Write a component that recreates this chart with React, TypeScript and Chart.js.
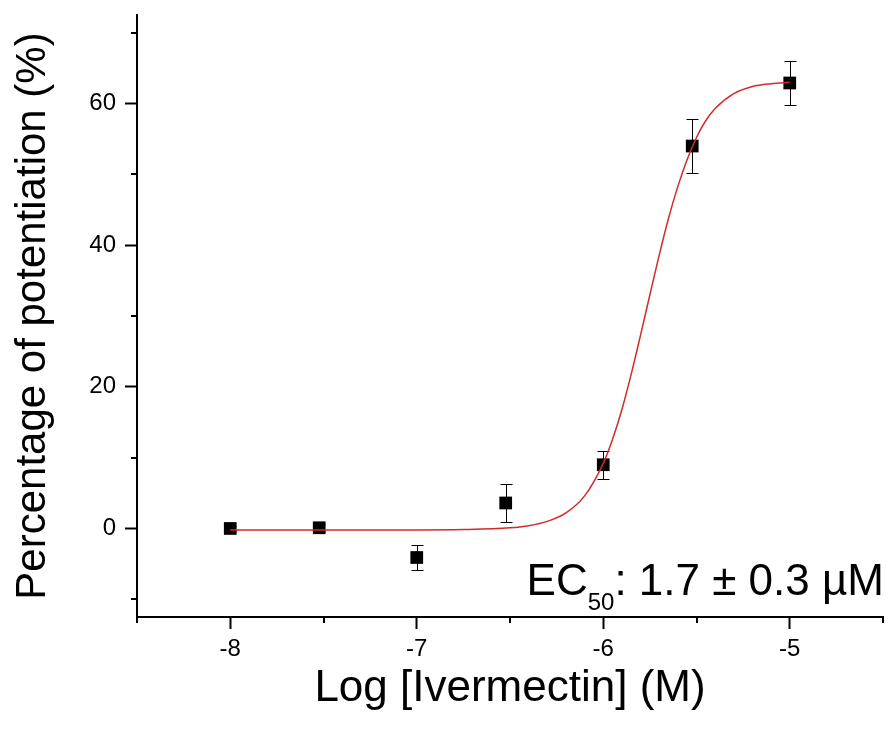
import React, { useEffect, useRef } from 'react';
import { Chart, registerables } from 'chart.js';

Chart.register(...registerables);

// Measured data points (log molar concentration vs % potentiation, mean ± SEM)
const logConc = [-8, -7.523, -7, -6.523, -6, -5.523, -5];
const potentiation = [0, 0.1, -4.1, 3.6, 9.0, 54.0, 62.9];
const sem = [0.4, 0.5, 1.8, 2.65, 2.0, 3.8, 3.1];

// Fitted curve
const fitLogConc = [-8, -7.5, -7, -6.75, -6.5, -6.4, -6.3, -6.2, -6.1, -6.0, -5.95, -5.9, -5.85, -5.8, -5.75, -5.7, -5.65, -5.6, -5.55, -5.5, -5.45, -5.4, -5.3, -5.2, -5.1, -5.0];
const fitValues = [-0.2, -0.2, -0.2, -0.15, 0.1, 0.4, 1.0, 2.2, 4.6, 9.2, 12.6, 16.8, 21.8, 27.3, 33.0, 38.6, 43.8, 48.3, 52.1, 55.2, 57.6, 59.3, 61.4, 62.4, 62.8, 63.0];

const xMajorTicks = [-8, -7, -6, -5];
const yMajorTicks = [0, 20, 40, 60];
const xMinorTicks = [-8.5, -7.5, -6.5, -5.5, -4.5];
const yMinorTicks = [-10, 10, 30, 50, 70];

const xTitle = 'Log [Ivermectin] (M)';
const yTitle = 'Percentage of potentiation (%)';
const ec50Parts = ['EC', '50', ': 1.7 \u00B1 0.3 \u00B5M'];

const FONT = 'Arial, "Liberation Sans", sans-serif';

const errorBarPlugin = {
  id: 'errorBars',
  beforeDatasetsDraw(chart: any) {
    const { ctx, scales } = chart;
    const x = scales.x;
    const y = scales.y;
    ctx.save();
    ctx.strokeStyle = '#000';
    ctx.lineWidth = 1;
    logConc.forEach((lc, i) => {
      const px = Math.round(x.getPixelForValue(lc)) + 0.5;
      const top = Math.round(y.getPixelForValue(potentiation[i] + sem[i])) + 0.5;
      const bot = Math.round(y.getPixelForValue(potentiation[i] - sem[i])) + 0.5;
      ctx.beginPath();
      ctx.moveTo(px, top);
      ctx.lineTo(px, bot);
      ctx.moveTo(px - 6, top);
      ctx.lineTo(px + 6, top);
      ctx.moveTo(px - 6, bot);
      ctx.lineTo(px + 6, bot);
      ctx.stroke();
    });
    ctx.restore();
  },
};

const minorTickPlugin = {
  id: 'minorTicks',
  afterDraw(chart: any) {
    const { ctx, scales } = chart;
    const x = scales.x;
    const y = scales.y;
    ctx.save();
    ctx.strokeStyle = '#000';
    ctx.lineWidth = 2;
    ctx.beginPath();
    xMinorTicks.forEach((v) => {
      const px = Math.round(x.getPixelForValue(v));
      ctx.moveTo(px, x.top);
      ctx.lineTo(px, x.top + 6);
    });
    yMinorTicks.forEach((v) => {
      const py = Math.round(y.getPixelForValue(v));
      ctx.moveTo(y.right - 6, py);
      ctx.lineTo(y.right, py);
    });
    ctx.stroke();
    ctx.restore();
  },
};

const ec50Plugin = {
  id: 'ec50Label',
  afterDraw(chart: any) {
    const { ctx, chartArea } = chart;
    const big = `44px ${FONT}`;
    const small = `24px ${FONT}`;
    ctx.save();
    ctx.fillStyle = '#000';
    ctx.textBaseline = 'alphabetic';
    ctx.textAlign = 'left';
    ctx.font = big;
    const w0 = ctx.measureText(ec50Parts[0]).width;
    const w2 = ctx.measureText(ec50Parts[2]).width;
    ctx.font = small;
    const w1 = ctx.measureText(ec50Parts[1]).width;
    const total = w0 + w1 + w2;
    let xPos = chartArea.right + 1 - total;
    const base = chartArea.bottom - 22;
    ctx.font = big;
    ctx.fillText(ec50Parts[0], xPos, base);
    xPos += w0;
    ctx.font = small;
    ctx.fillText(ec50Parts[1], xPos, base + 15);
    xPos += w1;
    ctx.font = big;
    ctx.fillText(ec50Parts[2], xPos, base);
    ctx.restore();
  },
};

export default function App() {
  const canvasRef = useRef<HTMLCanvasElement | null>(null);

  useEffect(() => {
    document.body.style.margin = '0';
    const canvas = canvasRef.current;
    if (!canvas) return;
    Chart.defaults.font.family = FONT;
    const chart = new Chart(canvas, {
      type: 'scatter',
      data: {
        datasets: [
          {
            label: 'Fit',
            data: fitLogConc.map((v, i) => ({ x: v, y: fitValues[i] })),
            showLine: true,
            borderColor: '#d42a2a',
            borderWidth: 1.5,
            pointRadius: 0,
            cubicInterpolationMode: 'monotone',
            fill: false,
            order: 0,
          } as any,
          {
            label: 'Data',
            data: logConc.map((v, i) => ({ x: v, y: potentiation[i] })),
            pointStyle: 'rect',
            pointRadius: 9,
            pointBackgroundColor: '#000',
            pointBorderWidth: 0,
            backgroundColor: '#000',
            borderColor: '#000',
            order: 1,
          } as any,
        ],
      },
      options: {
        animation: false,
        responsive: false,
        devicePixelRatio: 1,
        layout: { padding: { top: 15, right: 0, left: 0, bottom: 0 } },
        plugins: {
          legend: { display: false },
          tooltip: { enabled: false },
        },
        scales: {
          x: {
            type: 'linear',
            min: -8.5,
            max: -4.5,
            afterBuildTicks(scale: any) {
              scale.ticks = xMajorTicks.map((v) => ({ value: v }));
            },
            ticks: {
              autoSkip: false,
              maxRotation: 0,
              padding: 6,
              color: '#000',
              font: { size: 24 },
            },
            grid: {
              drawOnChartArea: false,
              tickLength: 12,
              tickWidth: 2,
              tickColor: '#000',
            },
            border: { color: '#000', width: 2 },
            title: {
              display: true,
              text: xTitle,
              color: '#000',
              font: { size: 44 },
              padding: { top: 0, bottom: 18 },
            },
            afterFit(scale: any) {
              scale.height = 116;
              scale.paddingLeft = 0;
              scale.paddingRight = 0;
            },
          },
          y: {
            type: 'linear',
            min: -12.5,
            max: 72.5,
            afterBuildTicks(scale: any) {
              scale.ticks = yMajorTicks.map((v) => ({ value: v }));
            },
            ticks: {
              padding: 9,
              color: '#000',
              font: { size: 24 },
            },
            grid: {
              drawOnChartArea: false,
              tickLength: 12,
              tickWidth: 2,
              tickColor: '#000',
            },
            border: { color: '#000', width: 2 },
            title: {
              display: true,
              text: yTitle,
              color: '#000',
              font: { size: 42 },
              padding: { top: 8, bottom: 0 },
            },
            afterFit(scale: any) {
              scale.width = 137;
              scale.paddingTop = 0;
              scale.paddingBottom = 0;
            },
          },
        },
      } as any,
      plugins: [errorBarPlugin, minorTickPlugin, ec50Plugin],
    });
    return () => chart.destroy();
  }, []);

  return (
    <div style={{ width: 892, height: 733, background: '#fff' }}>
      <canvas ref={canvasRef} width={892} height={733} style={{ display: 'block' }} />
    </div>
  );
}
